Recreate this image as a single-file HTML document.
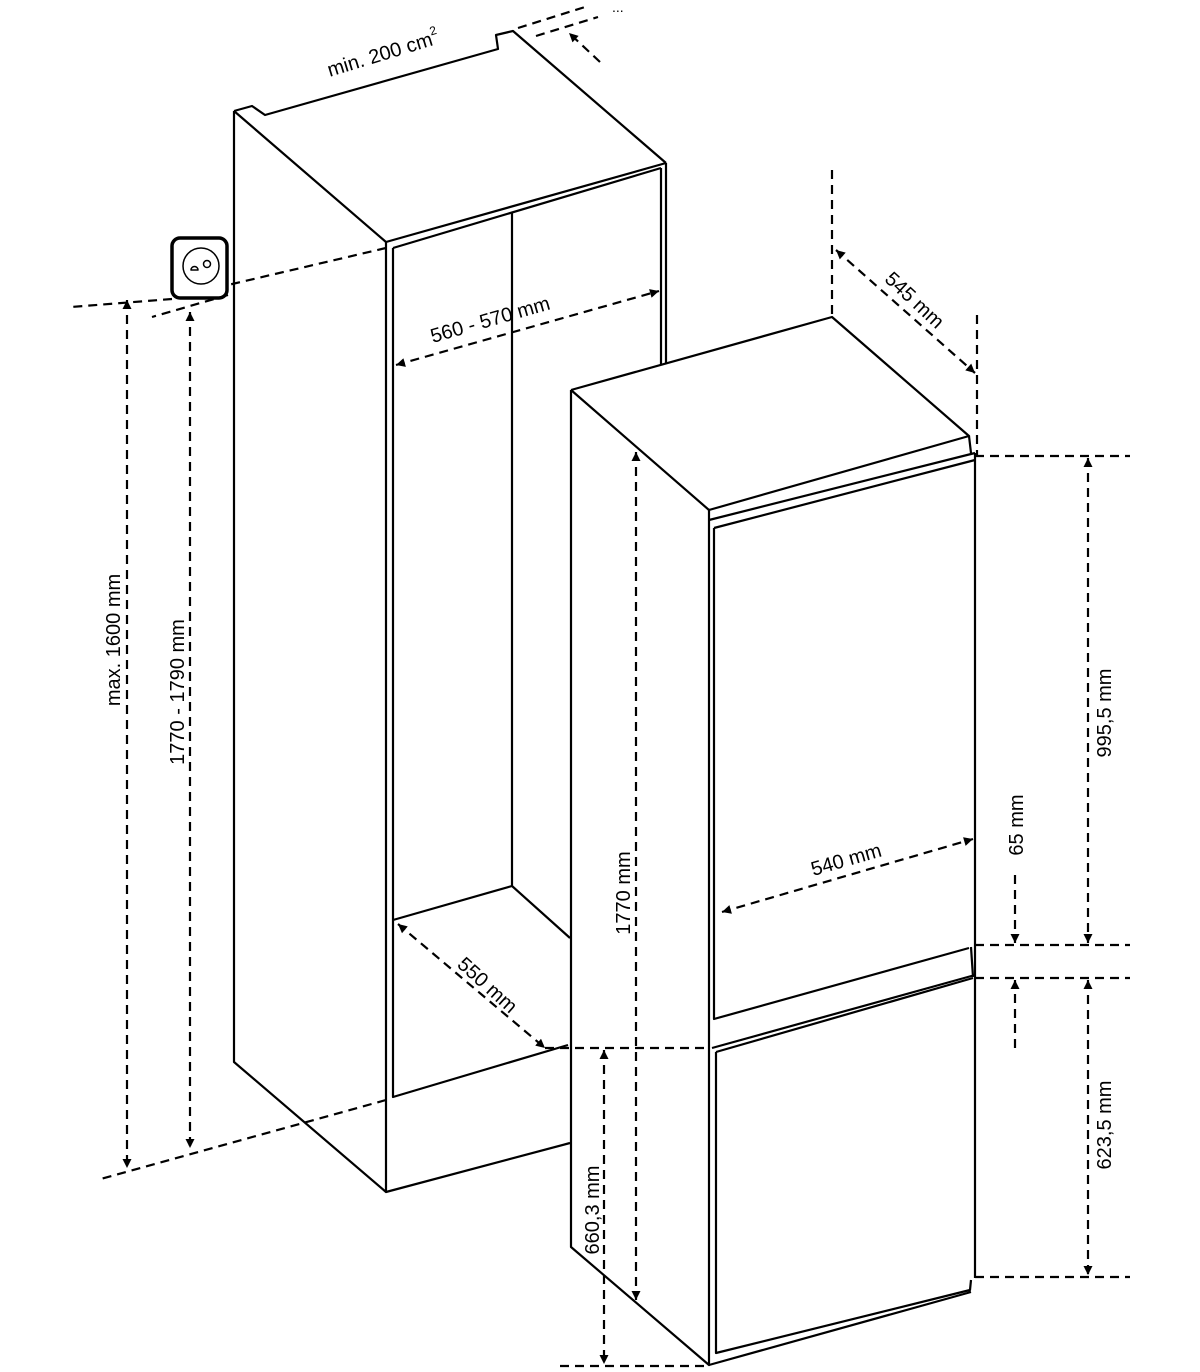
<!DOCTYPE html>
<html><head><style>html,body{margin:0;padding:0;background:#fff}svg{display:block}</style></head>
<body>
<svg width="1200" height="1372" viewBox="0 0 1200 1372" xmlns="http://www.w3.org/2000/svg" font-family="Liberation Sans, sans-serif" font-size="20" fill="none">
<defs>
<marker id="a" viewBox="0 0 10 10" refX="10" refY="5" markerWidth="16" markerHeight="9" orient="auto-start-reverse" markerUnits="userSpaceOnUse"><path d="M0,0 L10,5 L0,10 z" fill="#000"/></marker>
</defs>
<g stroke="#000" stroke-width="2.2" stroke-linejoin="round">
<!-- cabinet -->
<path d="M234,111 L252,106 L265,115 L498,49 L496,35 L513,31 L666,163"/>
<path d="M234,111 L386,242 L666,163"/>
<path d="M393,248 L661,168"/>
<path d="M234,111 L234,1062 L386,1192 L570,1143"/>
<path d="M386,242 L386,1192"/>
<path d="M393,248 L393,1097 L568,1045"/>
<path d="M666,163 L666,363 M661,168 L661,365"/>
<path d="M512,213 L512,886 L393,920 M512,886 L570,938"/>
<!-- socket -->
<rect x="172" y="238" width="55" height="60" rx="8" stroke-width="3.5"/>
<circle cx="201" cy="266" r="18" stroke-width="1.5"/>
<circle cx="207" cy="264" r="3.5" stroke-width="1.5"/>
<path d="M191,270 a3.5,3.5 0 1 1 7,0 z" stroke-width="1.5"/>
<!-- fridge -->
<path d="M571,390 L832,317 L969,436 L709,510 L571,390"/>
<path d="M969,436 L971,453 M709,520 L975,453 M714,528 L975,460"/>
<path d="M571,390 L571,1247 L709,1365 L709,510"/>
<path d="M714,528 L714,1019 L969,948 M975,453 L975,1278"/>
<path d="M971,947 L973,977 M712,1048 L975,975 M716,1052 L973,978"/>
<path d="M716,1052 L716,1353 L970,1290 L971,1280 M709,1365 L971,1292"/>
</g>
<g stroke="#000" stroke-width="2.2" stroke-dasharray="9,6">
<path d="M386,248 L228,285 M172,299 L71,307"/>
<path d="M228,295 L152,317"/>
<path d="M386,1100 L97,1180"/>
<path d="M518,28 L585,7 M536,36 L598,17"/>
<path d="M127,300 L127,1168" marker-start="url(#a)" marker-end="url(#a)"/>
<path d="M190,312 L190,1148" marker-start="url(#a)" marker-end="url(#a)"/>
<path d="M396,365 L659,291" marker-start="url(#a)" marker-end="url(#a)"/>
<path d="M398,924 L545,1048" marker-start="url(#a)" marker-end="url(#a)"/>
<path d="M600,62 L569,33" marker-end="url(#a)"/>
<path d="M832,170 L832,317 M977,315 L977,456"/>
<path d="M836,250 L975,373" marker-start="url(#a)" marker-end="url(#a)"/>
<path d="M975,456 L1130,456 M975,945 L1130,945 M975,978 L1130,978 M975,1277 L1130,1277"/>
<path d="M1088,458 L1088,943" marker-start="url(#a)" marker-end="url(#a)"/>
<path d="M1088,980 L1088,1275" marker-start="url(#a)" marker-end="url(#a)"/>
<path d="M1015,875 L1015,943" marker-end="url(#a)"/>
<path d="M1015,1048 L1015,980" marker-end="url(#a)"/>
<path d="M722,912 L973,839" marker-start="url(#a)" marker-end="url(#a)"/>
<path d="M636,452 L636,1300" marker-start="url(#a)" marker-end="url(#a)"/>
<path d="M545,1048 L709,1048 M560,1366 L709,1366"/>
<path d="M604,1050 L604,1364" marker-start="url(#a)" marker-end="url(#a)"/>
</g>
<g fill="#000" stroke="none">
<text transform="translate(385,60) rotate(-17)" text-anchor="middle">min. 200 cm<tspan dy="-10" font-size="12">2</tspan></text>
<text transform="translate(492,326) rotate(-16)" text-anchor="middle">560 - 570 mm</text>
<text transform="translate(120,640) rotate(-90)" text-anchor="middle">max. 1600 mm</text>
<text transform="translate(184,692) rotate(-90)" text-anchor="middle">1770 - 1790 mm</text>
<text transform="translate(483,990) rotate(42)" text-anchor="middle">550 mm</text>
<text transform="translate(910,305) rotate(43)" text-anchor="middle">545 mm</text>
<text transform="translate(848,866) rotate(-16)" text-anchor="middle">540 mm</text>
<text transform="translate(630,893) rotate(-90)" text-anchor="middle">1770 mm</text>
<text transform="translate(599,1210) rotate(-90)" text-anchor="middle">660,3 mm</text>
<text transform="translate(1111,713) rotate(-90)" text-anchor="middle">995,5 mm</text>
<text transform="translate(1111,1125) rotate(-90)" text-anchor="middle">623,5 mm</text>
<text transform="translate(1023,825) rotate(-90)" text-anchor="middle">65 mm</text>
<text x="612" y="12" font-size="14">...</text>
</g>
</svg>
</body></html>
